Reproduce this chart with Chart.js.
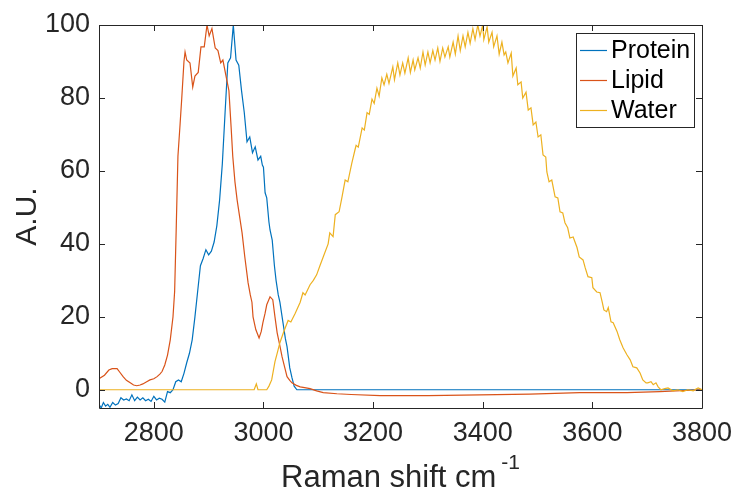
<!DOCTYPE html>
<html lang="en">
<head>
<meta charset="UTF-8">
<title>Raman spectra</title>
<script src="https://cdn.jsdelivr.net/npm/chart.js"></script>
<style>
  body { margin: 0; background: #fff; }
  #wrap { width: 734px; height: 490px; }
</style>
</head>
<body>
<div id="wrap"><canvas id="ramanChart" width="734" height="490"></canvas></div>
<script>
// values (Raman shift in cm-1, intensity in A.U.)
const proteinShift = [2700, 2704, 2708, 2712, 2716, 2720, 2725, 2730, 2735, 2740, 2745, 2750, 2755, 2760, 2765, 2770, 2775, 2780, 2785, 2790, 2795, 2800, 2805, 2810, 2815, 2820, 2825, 2830, 2835, 2840, 2845, 2850, 2855, 2860, 2865, 2870, 2875, 2880, 2885, 2890, 2895, 2900, 2905, 2910, 2915, 2920, 2925, 2930, 2935, 2940, 2945, 2950, 2955, 2960, 2965, 2970, 2975, 2980, 2985, 2990, 2995, 2998, 3000, 3003, 3006, 3010, 3012, 3016, 3020, 3023, 3027, 3030, 3035, 3040, 3043, 3048, 3052, 3056, 3061, 3100, 3300, 3500, 3700, 3800];
const proteinValue = [-4, -5, -3.5, -4.5, -4, -4.8, -3.5, -4.2, -3.8, -2.2, -2.8, -2.5, -3, -1.4, -3, -2, -2.8, -2.2, -3, -2.6, -3.2, -1.8, -2.8, -2.3, -2.6, -3.4, -0.5, -0.8, 0, 2.2, 2.7, 2.2, 4.5, 7.4, 10, 13.7, 20, 27, 34, 36, 38.4, 37, 38, 40.5, 45, 52, 62, 76, 89.6, 91, 100, 90.4, 89, 82, 76, 68, 69.3, 65, 66.6, 63, 64, 61.6, 61, 54, 52.6, 46, 43.8, 41, 34, 30, 26, 24, 19, 14, 11.8, 6, 3.3, 1, 0, 0, 0, 0, 0, 0];

const lipidShift = [2700, 2710, 2718, 2724, 2733, 2738, 2744, 2750, 2757, 2763, 2769, 2775, 2780, 2787, 2793, 2800, 2806, 2811, 2815, 2820, 2825, 2830, 2835, 2838, 2841, 2844, 2848, 2851, 2855, 2857, 2860, 2866, 2871, 2875, 2881, 2886, 2892, 2897, 2901, 2906, 2912, 2917, 2922, 2926, 2933, 2937, 2941, 2944, 2948, 2952, 2957, 2961, 2966, 2972, 2976, 2979, 2981, 2986, 2992, 2996, 2999, 3003, 3006, 3012, 3017, 3021, 3025, 3030, 3034, 3039, 3043, 3048, 3052, 3060, 3067, 3075, 3085, 3097, 3109, 3134, 3160, 3213, 3300, 3395, 3486, 3577, 3663, 3723, 3800];
const lipidValue = [3, 4, 5.4, 5.8, 5.8, 4.8, 3.6, 2.6, 1.9, 1.3, 1.1, 1.3, 1.6, 2.2, 2.7, 3, 3.6, 4.3, 5, 6.8, 9.5, 13.7, 20, 27, 45, 64, 73, 80, 90, 92.6, 90.4, 89.6, 83, 86, 87, 94, 94, 100, 97, 99, 93.7, 93, 89.6, 90.4, 85, 82, 72, 64, 57, 52, 47, 43, 36.4, 29.3, 26, 24, 20, 16.5, 14.2, 16, 18.4, 21, 23.3, 25.5, 24.7, 20, 15.6, 12, 9, 6, 3.6, 2.6, 1.9, 1.2, 0.8, 0.6, 0.3, -0.3, -0.8, -1.1, -1.3, -1.6, -1.6, -1.4, -1.2, -0.8, -0.8, -0.5, 0];

const waterShift = [2700, 2983, 2987, 2990, 3006, 3010, 3015, 3021, 3025, 3030, 3037, 3045, 3050, 3058, 3067, 3072, 3076, 3085, 3091, 3097, 3103, 3109, 3118, 3121, 3127, 3131, 3138, 3143, 3149, 3154, 3161, 3167, 3169, 3173, 3180, 3184, 3189, 3193, 3198, 3202, 3207, 3211, 3216, 3220, 3225, 3229, 3236, 3239, 3245, 3249, 3254, 3258, 3264, 3268, 3273, 3276, 3282, 3286, 3291, 3295, 3300, 3304, 3309, 3313, 3318, 3322, 3327, 3331, 3337, 3340, 3346, 3350, 3355, 3359, 3364, 3368, 3373, 3377, 3382, 3386, 3391, 3395, 3400, 3402, 3408, 3411, 3417, 3420, 3426, 3430, 3435, 3439, 3442, 3446, 3452, 3455, 3461, 3464, 3470, 3473, 3479, 3483, 3488, 3492, 3497, 3501, 3506, 3510, 3515, 3517, 3521, 3526, 3532, 3537, 3541, 3546, 3550, 3555, 3559, 3565, 3572, 3576, 3583, 3587, 3592, 3599, 3601, 3608, 3614, 3618, 3621, 3626, 3629, 3634, 3638, 3645, 3650, 3656, 3663, 3669, 3674, 3681, 3687, 3692, 3698, 3701, 3707, 3711, 3716, 3720, 3725, 3732, 3738, 3747, 3756, 3765, 3774, 3784, 3790, 3793, 3800];
const waterValue = [0, 0, 1.6, 0, 0, 1, 2.7, 7.7, 10, 12.9, 15.9, 19, 18.6, 21, 24, 26.6, 26, 28.8, 30, 31.5, 34, 36.4, 40, 43, 42, 48, 48.8, 52.6, 57.5, 57, 62, 65.8, 67, 66.5, 71.8, 71.2, 76, 75.5, 79.7, 78.5, 82.7, 80.5, 85.5, 83.6, 86.5, 84, 88.5, 85, 89.6, 86.3, 89.6, 86.8, 91, 87, 90.4, 87.7, 91, 88.2, 92.6, 89, 92.6, 89.6, 93, 90.4, 93.7, 90, 93.7, 91.2, 94, 91.2, 95.3, 92, 97, 93, 97, 94, 98, 95, 99, 96, 100, 97, 100, 96, 99.5, 95.3, 98, 94, 97, 92, 95.3, 91.8, 92.6, 89.6, 92.3, 86, 88.2, 83.6, 84.4, 80, 81.6, 76.7, 77.3, 72.6, 73.4, 69.3, 69.9, 64.4, 63.8, 59.7, 57, 57.5, 52.9, 52.6, 48.8, 48.5, 45.8, 44.4, 41.6, 41.9, 39, 36.4, 35.6, 33.4, 31, 30.7, 28, 26.8, 26.6, 24, 21.9, 21.4, 22.5, 18.6, 18.4, 16, 13.7, 11.5, 9.6, 8.2, 6.3, 6, 4.6, 2.7, 1.9, 1.9, 2.2, 1.4, 1.9, 0.8, 0, 0.3, 0.5, -0.3, 0, -0.5, 0, -0.3, 0.3, 0.5, 0];

const seriesNames = ["Protein", "Lipid", "Water"];
const seriesColors = ["#0072BD", "#D95319", "#EDB120"];
const xTicks = [2800, 3000, 3200, 3400, 3600, 3800];
const yTicks = [0, 20, 40, 60, 80, 100];

const FONT = '"Liberation Sans", Arial, Helvetica, sans-serif';
const INK = "#262626";

const toPoints = (xs, ys) => xs.map((x, i) => ({ x: x, y: ys[i] }));

// box round the axes with inward ticks on all four sides
const axesBox = {
  id: "axesBox",
  afterDatasetsDraw(chart) {
    const { ctx, chartArea: a, scales } = chart;
    ctx.save();
    ctx.strokeStyle = INK;
    ctx.lineWidth = 1;
    ctx.beginPath();
    ctx.rect(a.left + 0.5, a.top + 0.5, a.right - a.left, a.bottom - a.top);
    xTicks.forEach(v => {
      const px = Math.round(scales.x.getPixelForValue(v)) + 0.5;
      ctx.moveTo(px, a.bottom); ctx.lineTo(px, a.bottom - 6);
      ctx.moveTo(px, a.top); ctx.lineTo(px, a.top + 6);
    });
    yTicks.forEach(v => {
      const py = Math.round(scales.y.getPixelForValue(v)) + 0.5;
      ctx.moveTo(a.left, py); ctx.lineTo(a.left + 6, py);
      ctx.moveTo(a.right, py); ctx.lineTo(a.right - 6, py);
    });
    ctx.stroke();
    ctx.restore();
  }
};

// axis titles (x title has a superscript) and the legend inside the axes
const labelsAndLegend = {
  id: "labelsAndLegend",
  afterDraw(chart) {
    const { ctx, chartArea: a } = chart;
    ctx.save();
    ctx.fillStyle = INK;

    ctx.font = "31px " + FONT;
    ctx.textBaseline = "alphabetic";
    ctx.textAlign = "left";
    const main = "Raman shift cm";
    const mainW = ctx.measureText(main).width;
    ctx.fillText(main, 281, 487);
    ctx.font = "21px " + FONT;
    ctx.fillText("-1", 281 + mainW + 5, 469);

    ctx.font = "30px " + FONT;
    ctx.translate(28, (a.top + a.bottom) / 2);
    ctx.rotate(-Math.PI / 2);
    ctx.textAlign = "center";
    ctx.textBaseline = "middle";
    ctx.fillText("A.U.", 0, 0);
    ctx.setTransform(1, 0, 0, 1, 0, 0);

    // legend
    const lx = 576, ly = 33, lw = 118, lh = 94;
    ctx.fillStyle = "#fff";
    ctx.fillRect(lx, ly, lw, lh);
    ctx.strokeStyle = INK;
    ctx.lineWidth = 1;
    ctx.strokeRect(lx + 0.5, ly + 0.5, lw, lh);
    ctx.font = "25px " + FONT;
    ctx.textAlign = "left";
    ctx.textBaseline = "middle";
    chart.data.datasets.forEach((ds, i) => {
      const ry = 50 + i * 30;
      ctx.strokeStyle = ds.borderColor;
      ctx.lineWidth = 1.2;
      ctx.beginPath();
      ctx.moveTo(580, ry + 0.5);
      ctx.lineTo(607, ry + 0.5);
      ctx.stroke();
      ctx.fillStyle = "#000";
      ctx.fillText(ds.label, 611, ry + 1);
    });
    ctx.restore();
  }
};

const datasets = [
  toPoints(proteinShift, proteinValue),
  toPoints(lipidShift, lipidValue),
  toPoints(waterShift, waterValue)
].map((pts, i) => ({
  label: seriesNames[i],
  data: pts,
  borderColor: seriesColors[i],
  backgroundColor: seriesColors[i],
  borderWidth: 1.2,
  pointRadius: 0,
  tension: 0,
  fill: false,
  order: 3 - i
}));

const ctx = document.getElementById("ramanChart").getContext("2d");
new Chart(ctx, {
  type: "line",
  data: { datasets: datasets },
  options: {
    responsive: false,
    animation: false,
    layout: { padding: { top: 25, right: 32, left: 0, bottom: 0 } },
    plugins: {
      legend: { display: false },
      tooltip: { enabled: false }
    },
    scales: {
      x: {
        type: "linear",
        min: 2700,
        max: 3800,
        afterBuildTicks: s => { s.ticks = xTicks.map(v => ({ value: v })); },
        afterFit: s => { s.height = 82; s.paddingLeft = 0; s.paddingRight = 0; },
        grid: { display: false, drawTicks: false },
        border: { display: false },
        ticks: {
          color: INK,
          font: { family: FONT, size: 27 },
          padding: 9,
          maxRotation: 0,
          autoSkip: false,
          callback: v => String(v)
        }
      },
      y: {
        min: -5,
        max: 100,
        afterBuildTicks: s => { s.ticks = yTicks.map(v => ({ value: v })); },
        afterFit: s => { s.width = 99; s.paddingTop = 0; s.paddingBottom = 0; },
        grid: { display: false, drawTicks: false },
        border: { display: false },
        ticks: {
          color: INK,
          font: { family: FONT, size: 27 },
          padding: 9,
          callback: v => String(v)
        }
      }
    }
  },
  plugins: [axesBox, labelsAndLegend]
});
</script>
</body>
</html>
